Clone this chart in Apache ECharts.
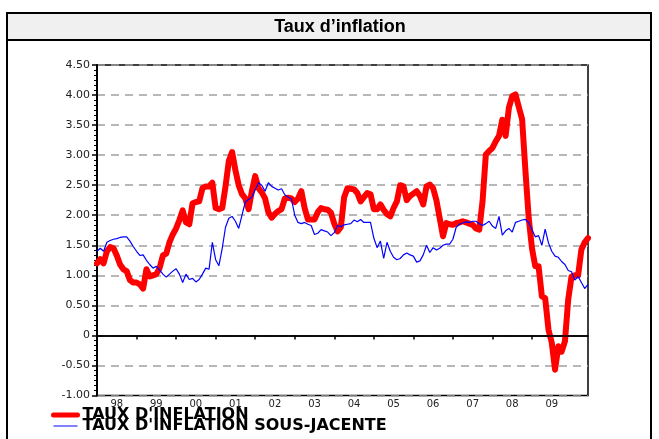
<!DOCTYPE html>
<html>
<head>
<meta charset="utf-8">
<script src="https://cdn.jsdelivr.net/npm/echarts@6/dist/echarts.min.js"></script>
<style>
  html, body { margin: 0; padding: 0; background: #fff; }
  #chart { width: 659px; height: 439px; }
</style>
</head>
<body>
<div id="chart"></div>
<script>
// year labels, one per 12 months starting Jan 1998
const yearLabels = ['98', '99', '00', '01', '02', '03', '04', '05', '06', '07', '08', '09'];

// monthly values, 1998M01 ..
const inflation = [
  1.20, 1.27, 1.20, 1.40, 1.47, 1.45, 1.33, 1.18, 1.10, 1.07, 0.92, 0.88,
  0.88, 0.85, 0.78, 1.10, 0.98, 1.00, 1.02, 1.12, 1.33, 1.36, 1.55, 1.68,
  1.78, 1.92, 2.08, 1.88, 1.85, 2.20, 2.22, 2.23, 2.45, 2.48, 2.48, 2.54,
  2.12, 2.10, 2.12, 2.48, 2.90, 3.05, 2.75, 2.50, 2.35, 2.28, 2.10, 2.40,
  2.65, 2.45, 2.38, 2.28, 2.05, 1.96, 2.02, 2.07, 2.10, 2.28, 2.29, 2.28,
  2.22, 2.28, 2.40, 2.12, 1.93, 1.93, 1.93, 2.05, 2.12, 2.10, 2.09, 2.04,
  1.86, 1.73, 1.80, 2.30, 2.45, 2.44, 2.43, 2.37, 2.23, 2.30, 2.37, 2.35,
  2.10, 2.10, 2.18, 2.09, 2.02, 1.98, 2.12, 2.23, 2.50, 2.48, 2.25, 2.32,
  2.36, 2.40, 2.32, 2.18, 2.48, 2.51, 2.45, 2.25, 1.95, 1.65, 1.87, 1.85,
  1.84, 1.87, 1.88, 1.90, 1.88, 1.86, 1.84, 1.78, 1.76, 2.23, 3.01, 3.07,
  3.12, 3.23, 3.32, 3.59, 3.32, 3.79, 3.98, 4.01, 3.80, 3.60, 2.75, 1.96,
  1.45, 1.15, 1.15, 0.65, 0.62, 0.10, -0.12, -0.57, -0.18, -0.27, -0.10, 0.60,
  0.98, 1.00, 1.00, 1.43, 1.55, 1.62
];
const coreInflation = [
  1.40, 1.45, 1.40, 1.55, 1.58, 1.60, 1.61, 1.63, 1.64, 1.64, 1.57, 1.48,
  1.40, 1.33, 1.34, 1.25, 1.18, 1.12, 1.15, 1.09, 1.02, 0.97, 1.02, 1.07,
  1.11, 1.02, 0.88, 1.02, 0.93, 0.95, 0.89, 0.93, 1.02, 1.12, 1.10, 1.55,
  1.26, 1.16, 1.45, 1.80, 1.95, 1.98, 1.90, 1.78, 2.00, 2.22, 2.26, 2.30,
  2.42, 2.54, 2.50, 2.40, 2.54, 2.48, 2.45, 2.42, 2.44, 2.34, 2.30, 2.27,
  2.00, 1.88, 1.86, 1.88, 1.85, 1.83, 1.68, 1.70, 1.76, 1.74, 1.72, 1.66,
  1.71, 1.83, 1.81, 1.84, 1.85, 1.86, 1.92, 1.89, 1.93, 1.88, 1.88, 1.88,
  1.62, 1.46, 1.57, 1.28, 1.55, 1.40, 1.30, 1.26, 1.28, 1.34, 1.37, 1.34,
  1.32, 1.22, 1.24, 1.34, 1.50, 1.38, 1.46, 1.42, 1.45, 1.50, 1.52, 1.52,
  1.60, 1.80, 1.85, 1.87, 1.89, 1.88, 1.90, 1.90, 1.86, 1.83, 1.86, 1.90,
  1.82, 1.78, 1.98, 1.67, 1.74, 1.78, 1.72, 1.88, 1.90, 1.92, 1.93, 1.88,
  1.76, 1.64, 1.66, 1.50, 1.77, 1.54, 1.40, 1.32, 1.30, 1.23, 1.18, 1.08,
  1.06, 0.92, 0.98, 0.88, 0.78, 0.85
];

const chart = echarts.init(document.getElementById('chart'));

chart.setOption({
  animation: false,
  backgroundColor: '#fff',
  graphic: [
    // cadre + bandeau du titre
    { type: 'rect', z: -10, shape: { x: 7, y: 13, width: 644, height: 440 },
      style: { fill: '#fff', stroke: '#000', lineWidth: 2 } },
    { type: 'rect', z: -9, shape: { x: 7, y: 13, width: 644, height: 27 },
      style: { fill: '#f0f0f0', stroke: '#000', lineWidth: 2 } },
    { type: 'text', x: 340, y: 27, z: 10,
      style: { text: 'Taux d’inflation', font: 'bold 18px "Liberation Sans", Arial, sans-serif',
               fill: '#000', align: 'center', verticalAlign: 'middle' } }
  ],
  grid: {
    left: 97, top: 65, right: 71, bottom: 43.5,
    show: true, borderColor: '#000', borderWidth: 1.5
  },
  legend: {
    orient: 'vertical',
    left: 51, top: 407,
    padding: 0,
    itemGap: -5,
    itemWidth: 24, itemHeight: 12,
    itemTextGap: 7,
    itemStyle: { opacity: 0 },
    textStyle: { fontFamily: 'DejaVu Sans', fontWeight: 'bold', fontSize: 16, color: '#000', lineHeight: 12 },
    data: [
      { name: 'TAUX D\'INFLATION', lineStyle: { width: 5 } },
      { name: 'TAUX D\'INFLATION SOUS-JACENTE', lineStyle: { width: 1 } }
    ]
  },
  xAxis: {
    type: 'value',
    min: 0,
    max: inflation.length - 1,
    axisLine: { lineStyle: { color: '#000', width: 1.5 } },
    axisTick: {
      length: 4, lineStyle: { color: '#000', width: 1.5 },
      customValues: yearLabels.map((_, k) => k * 12)
    },
    axisLabel: {
      customValues: yearLabels.map((_, k) => k * 12 + 6),
      formatter: v => yearLabels[Math.round((v - 6) / 12)],
      fontFamily: 'DejaVu Sans', fontSize: 10, color: '#222', margin: 4
    },
    splitLine: { show: false }
  },
  yAxis: {
    type: 'value',
    min: -1, max: 4.5, interval: 0.5,
    axisLine: { show: true, lineStyle: { color: '#000', width: 2 } },
    axisTick: { length: 5, lineStyle: { color: '#000', width: 1.5 } },
    minorTick: { show: true, splitNumber: 6, length: 3, lineStyle: { color: '#000', width: 1 } },
    axisLabel: {
      formatter: v => v === 0 ? '0' : v.toFixed(2),
      fontFamily: 'DejaVu Sans', fontSize: 11, color: '#222', margin: 7
    },
    splitLine: { lineStyle: { color: '#a0a0a0', type: [8, 6], width: 1.5 } }
  },
  series: [
    {
      name: 'TAUX D\'INFLATION',
      type: 'line',
      data: inflation.map((v, i) => [i, v]),
      showSymbol: false,
      symbol: 'none',
      lineStyle: { color: '#ff0000', width: 6, join: 'round', cap: 'round' },
      itemStyle: { color: '#ff0000' },
      markLine: {
        silent: true, symbol: 'none', label: { show: false },
        lineStyle: { color: '#000', type: 'solid', width: 1.5 },
        data: [{ yAxis: 0 }]
      },
      z: 2
    },
    {
      name: 'TAUX D\'INFLATION SOUS-JACENTE',
      type: 'line',
      data: coreInflation.map((v, i) => [i, v]),
      showSymbol: false,
      symbol: 'none',
      lineStyle: { color: '#0000ff', width: 1.2 },
      itemStyle: { color: '#0000ff' },
      z: 3
    }
  ]
});
</script>
</body>
</html>
